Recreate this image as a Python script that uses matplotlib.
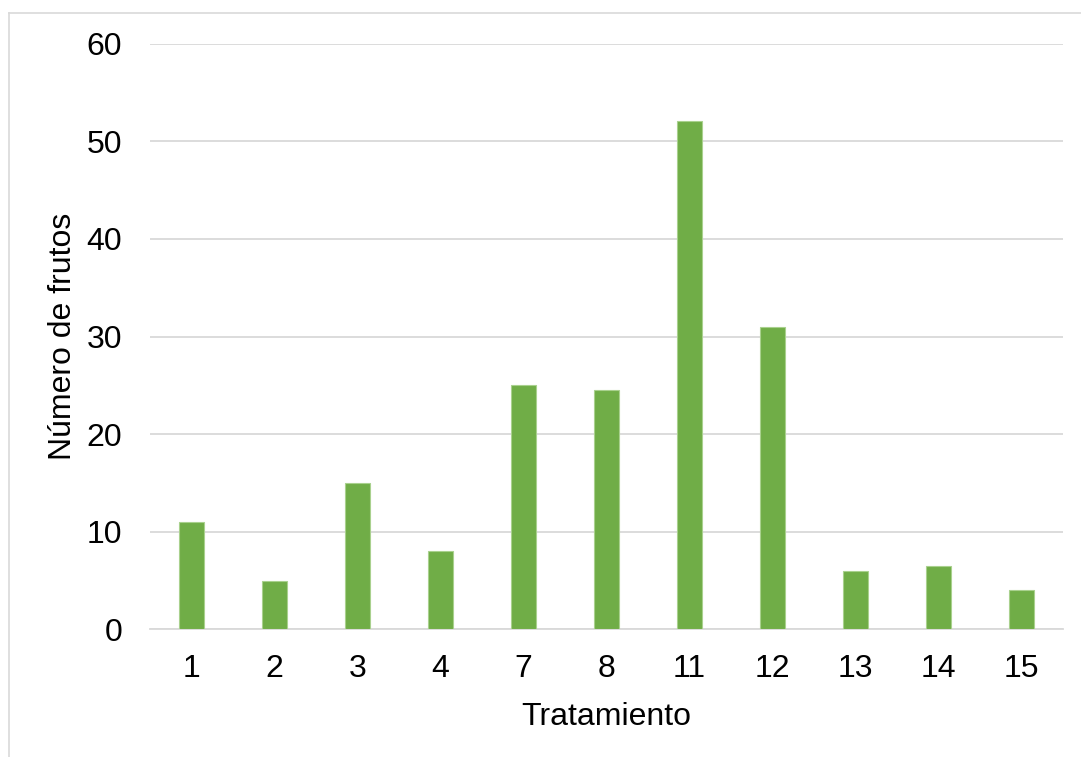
import matplotlib
matplotlib.use("Agg")
import matplotlib.pyplot as plt
from matplotlib.lines import Line2D

plt.rcParams['font.family'] = ['Liberation Sans', 'DejaVu Sans']

tratamientos = ["1", "2", "3", "4", "7", "8", "11", "12", "13", "14", "15"]
frutos = [11, 5, 15, 8, 25, 24.5, 52.1, 31, 6, 6.5, 4]

W, H = 1081, 757
fig = plt.figure(figsize=(W / 100, H / 100), dpi=100)
ax = fig.add_axes([150 / W, 1 - 629.3 / H, (1063 - 150) / W, (629.3 - 43.7) / H])

x = range(len(tratamientos))
ax.bar(x, frutos, width=0.305, color="#70AD47", edgecolor="#A9D18E",
       linewidth=0.8, zorder=3)

ax.set_xlim(-0.5, len(tratamientos) - 0.5)
ax.set_ylim(0, 60)
ax.set_yticks(range(0, 61, 10))
ax.set_xticks(list(x))
ax.set_xticklabels(tratamientos)
ax.yaxis.grid(True, color="#D9D9D9", linewidth=1.3, zorder=0)
ax.set_axisbelow(True)
for side in ("top", "right", "left"):
    ax.spines[side].set_visible(False)
ax.spines["bottom"].set_color("#D9D9D9")
ax.spines["bottom"].set_linewidth(1.3)
ax.tick_params(axis="both", length=0, labelsize=23, colors="black")
ax.tick_params(axis="y", pad=20)
ax.tick_params(axis="x", pad=18)

ax.set_xlabel("Tratamiento", fontsize=23, labelpad=13)
ax.set_ylabel("Número de frutos", fontsize=23, labelpad=6)

# chart area frame (left and top edges)
fig.add_artist(Line2D([8.5 / W, 8.5 / W], [0, 1 - 13.3 / H],
                      transform=fig.transFigure, color="#D9D9D9", linewidth=1.2))
fig.add_artist(Line2D([8.5 / W, 1], [1 - 13.3 / H, 1 - 13.3 / H],
                      transform=fig.transFigure, color="#D9D9D9", linewidth=1.2))

fig.savefig("out.png", dpi=100)
